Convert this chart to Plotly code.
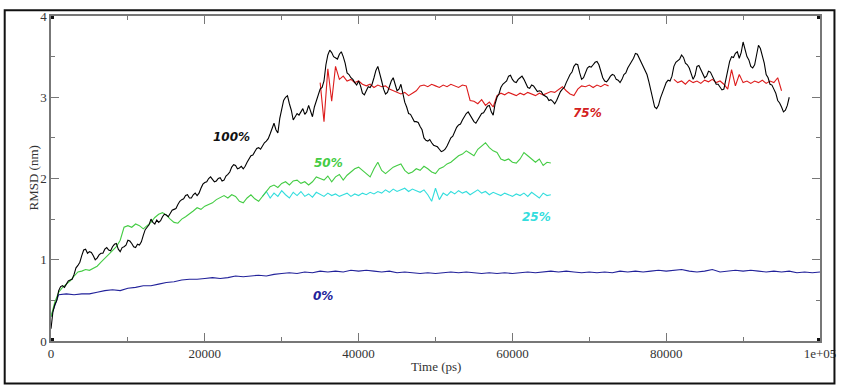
import numpy as np
import plotly.graph_objects as go

# RMSD (nm) of the 100% run at 0, 500, 1000 ... ps
rmsd_100 = [
    0.15, 0.45, 0.62, 0.68, 0.70, 0.75, 0.82, 0.93, 1.05, 1.13,
    1.10, 1.05, 1.02, 1.08, 1.13, 1.12, 1.16, 1.20, 1.10, 1.16,
    1.24, 1.20, 1.15, 1.18, 1.30, 1.40, 1.50, 1.44, 1.46, 1.53,
    1.55, 1.57, 1.62, 1.68, 1.74, 1.79, 1.76, 1.80, 1.79, 1.88,
    1.95, 2.00, 1.99, 1.97, 2.01, 1.98, 2.05, 2.14, 2.16, 2.13,
    2.12, 2.20, 2.28, 2.34, 2.38, 2.40, 2.46, 2.55, 2.68, 2.56,
    2.85, 3.00, 2.92, 2.72, 2.80, 2.83, 2.79, 2.90, 2.76, 2.96,
    3.10, 3.20, 3.52, 3.55, 3.48, 3.53, 3.50, 3.30, 3.24, 3.18,
    3.20, 3.05, 3.08, 3.12, 3.24, 3.38, 3.20, 3.04, 3.14, 3.24,
    3.08, 3.16, 2.94, 2.80, 2.74, 2.70, 2.64, 2.50, 2.46, 2.44,
    2.40, 2.36, 2.34, 2.40, 2.50, 2.58, 2.66, 2.72, 2.80, 2.78,
    2.70, 2.72, 2.80, 2.86, 2.90, 2.78, 3.00, 3.12, 3.18, 3.26,
    3.22, 3.18, 3.24, 3.22, 3.12, 3.15, 3.11, 3.08, 3.03, 3.00,
    2.97, 2.92, 3.02, 3.10, 3.18, 3.28, 3.38, 3.40, 3.22, 3.30,
    3.38, 3.40, 3.44, 3.32, 3.20, 3.22, 3.28, 3.22, 3.18, 3.28,
    3.36, 3.44, 3.54, 3.48, 3.38, 3.28, 3.08, 2.88, 2.90, 3.05,
    3.18, 3.20, 3.38, 3.45, 3.52, 3.42, 3.36, 3.22, 3.38, 3.34,
    3.24, 3.32, 3.26, 3.16, 3.12, 3.10, 3.36, 3.50, 3.54, 3.48,
    3.68, 3.50, 3.38, 3.40, 3.64, 3.52, 3.28, 3.16, 3.10, 2.96,
    2.88, 2.84, 3.00,
]
# same run at 250, 750, 1250 ... ps
rmsd_100_half = [
    0.36, 0.50, 0.67, 0.66, 0.74, 0.76, 0.90, 0.97, 1.12, 1.08,
    1.09, 1.00, 1.06, 1.08, 1.15, 1.11, 1.19, 1.13, 1.15, 1.18,
    1.23, 1.16, 1.19, 1.22, 1.37, 1.43, 1.46, 1.49, 1.48, 1.56,
    1.53, 1.61, 1.63, 1.72, 1.75, 1.80, 1.76, 1.82, 1.82, 1.93,
    1.96, 2.02, 1.96, 2.00, 1.97, 2.03, 2.08, 2.17, 2.12, 2.15,
    2.15, 2.25, 2.29, 2.37, 2.36, 2.44, 2.49, 2.63, 2.60, 2.74,
    2.96, 3.02, 2.84, 2.76, 2.78, 2.86, 2.82, 2.84, 2.88, 3.04,
    3.12, 3.40, 3.58, 3.50, 3.47, 3.56, 3.42, 3.28, 3.22, 3.15,
    3.14, 3.03, 3.13, 3.16, 3.33, 3.30, 3.10, 3.06, 3.20, 3.14,
    3.10, 3.05, 2.88, 2.79, 2.70, 2.69, 2.60, 2.47, 2.48, 2.41,
    2.39, 2.33, 2.36, 2.46, 2.52, 2.63, 2.67, 2.77, 2.82, 2.75,
    2.68, 2.77, 2.81, 2.89, 2.82, 2.92, 3.04, 3.16, 3.20, 3.27,
    3.19, 3.22, 3.26, 3.16, 3.11, 3.14, 3.07, 3.07, 3.02, 2.96,
    2.95, 2.96, 3.07, 3.12, 3.24, 3.31, 3.41, 3.30, 3.24, 3.36,
    3.37, 3.43, 3.40, 3.24, 3.19, 3.26, 3.27, 3.21, 3.22, 3.30,
    3.41, 3.48, 3.53, 3.45, 3.34, 3.19, 2.96, 2.86, 2.99, 3.10,
    3.21, 3.26, 3.43, 3.47, 3.49, 3.40, 3.30, 3.27, 3.39, 3.30,
    3.26, 3.31, 3.22, 3.16, 3.09, 3.22, 3.44, 3.49, 3.56, 3.55,
    3.60, 3.46, 3.36, 3.52, 3.60, 3.42, 3.24, 3.15, 3.05, 2.93,
    2.82, 2.90,
]
t0_100 = 0

rmsd_75 = [
    3.18, 2.70, 3.35, 2.95, 3.38, 3.22, 3.26, 3.20, 3.22, 3.18,
    3.20, 3.16, 3.14, 3.16, 3.12, 3.15, 3.13, 3.14, 3.10, 3.08,
    3.06, 3.04, 3.06, 3.02, 3.05, 3.08, 3.14, 3.15, 3.13, 3.16,
    3.14, 3.12, 3.15, 3.13, 3.16, 3.14, 3.12, 3.15, 3.14, 2.96,
    2.95, 2.92, 2.97, 2.90, 2.94, 2.88, 3.02, 3.05, 3.03, 3.06,
    3.04, 3.02, 3.05, 3.03, 3.06, 3.04, 3.02, 3.05, 3.03, 3.05,
    3.07, 3.06, 3.10, 3.13, 3.08, 3.04, 3.02, 3.10, 3.14, 3.13,
    3.15, 3.12, 3.15, 3.13, 3.16, 3.14,
    None, None, None, None, None, None, None, None, None, None,
    None, None, None, None, None, None,
    3.22, 3.18, 3.20, 3.16, 3.21, 3.18, 3.20, 3.17, 3.21, 3.19,
    3.22, 3.18, 3.20, 3.16, 3.10, 3.34, 3.14, 3.28, 3.18, 3.20,
    3.17, 3.20, 3.18, 3.21, 3.17, 3.20, 3.18, 3.24, 3.08,
]
t0_75 = 35000

rmsd_50 = [
    0.30, 0.48, 0.60, 0.66, 0.70, 0.74, 0.80, 0.85, 0.86, 0.88,
    0.87, 0.90, 0.92, 0.97, 1.02, 1.06, 1.12, 1.16, 1.24, 1.40,
    1.42, 1.40, 1.44, 1.42, 1.38, 1.42, 1.46, 1.52, 1.56, 1.58,
    1.55, 1.50, 1.46, 1.45, 1.50, 1.53, 1.56, 1.60, 1.64, 1.62,
    1.66, 1.68, 1.70, 1.74, 1.76, 1.79, 1.76, 1.80, 1.78, 1.72,
    1.70, 1.76, 1.80, 1.75, 1.72, 1.78, 1.84, 1.90, 1.92, 1.89,
    1.94, 1.96, 1.92, 1.97, 1.98, 1.94, 1.96, 1.92, 1.96, 2.02,
    2.00, 1.98, 2.03, 1.96, 2.02, 2.05, 1.98, 2.04, 2.08, 2.12,
    2.14, 2.10, 2.06, 2.02, 2.12, 2.20, 2.10, 2.06, 2.10, 2.14,
    2.16, 2.18, 2.10, 2.06, 2.08, 2.12, 2.10, 2.15, 2.12, 2.08,
    2.06, 2.12, 2.14, 2.18, 2.20, 2.24, 2.28, 2.30, 2.34, 2.31,
    2.28, 2.36, 2.40, 2.44, 2.38, 2.34, 2.32, 2.24, 2.22, 2.24,
    2.20, 2.19, 2.24, 2.32, 2.28, 2.24, 2.20, 2.24, 2.16, 2.20,
    2.19,
]
t0_50 = 0

rmsd_25 = [
    1.78, 1.84, 1.76, 1.82, 1.78, 1.85, 1.80, 1.76, 1.83, 1.79,
    1.84, 1.78, 1.81, 1.77, 1.83, 1.80, 1.78, 1.82, 1.79, 1.81,
    1.78, 1.80, 1.82, 1.78, 1.81, 1.79, 1.82, 1.80, 1.83, 1.81,
    1.84, 1.82, 1.86, 1.83, 1.87, 1.84, 1.86, 1.88, 1.84, 1.87,
    1.85, 1.83, 1.86, 1.80, 1.72, 1.88, 1.74, 1.82, 1.79, 1.84,
    1.81, 1.85, 1.82, 1.84, 1.80, 1.83, 1.86, 1.82, 1.84, 1.80,
    1.83, 1.81, 1.79, 1.82, 1.80, 1.78, 1.81, 1.79, 1.82, 1.78,
    1.83, 1.80, 1.76, 1.82, 1.79, 1.80,
]
t0_25 = 27500

rmsd_0 = [
    0.30, 0.57, 0.58, 0.57, 0.58, 0.58, 0.60, 0.62, 0.63, 0.62,
    0.65, 0.66, 0.68, 0.68, 0.70, 0.72, 0.73, 0.75, 0.76, 0.76,
    0.77, 0.78, 0.77, 0.78, 0.80, 0.79, 0.80, 0.81, 0.80, 0.82,
    0.83, 0.84, 0.83, 0.85, 0.84, 0.86, 0.85, 0.86, 0.85, 0.87,
    0.86, 0.87, 0.86, 0.85, 0.86, 0.84, 0.85, 0.84, 0.83, 0.84,
    0.83, 0.84, 0.85, 0.84, 0.85, 0.84, 0.83, 0.84, 0.83, 0.84,
    0.83, 0.84, 0.85, 0.84, 0.85, 0.86, 0.85, 0.86, 0.85, 0.84,
    0.85, 0.84, 0.85, 0.84, 0.86, 0.85, 0.86, 0.85, 0.86, 0.87,
    0.86, 0.87, 0.88, 0.86, 0.85, 0.86, 0.88, 0.85, 0.86, 0.87,
    0.86, 0.87, 0.86, 0.85, 0.86, 0.85, 0.86, 0.84, 0.85, 0.84,
    0.85,
]
t0_0 = 0

x_ticks = [0, 20000, 40000, 60000, 80000, 100000]
x_ticktext = ["0", "20000", "40000", "60000", "80000", "1e+05"]
y_ticks = [0, 1, 2, 3, 4]
y_ticktext = ["0", "1", "2", "3", "4"]

# label text, colour and (time, rmsd) position
series_labels = [
    ("100%", "#111111", 23500, 2.51),
    ("75%", "#d42020", 69800, 2.81),
    ("50%", "#44cc44", 36100, 2.19),
    ("25%", "#33dddd", 63100, 1.53),
    ("0%", "#22229a", 35400, 0.55),
]


def times(values, start, step):
    return start + step * np.arange(len(values))


# merge the whole- and half-step samples of the 100% run
full_100 = np.empty(len(rmsd_100) + len(rmsd_100_half))
full_100[0::2] = rmsd_100
full_100[1::2] = rmsd_100_half

fig = go.Figure()
series = [
    (rmsd_0, t0_0, 1000, "#22229a"),
    (rmsd_25, t0_25, 500, "#33dddd"),
    (rmsd_50, t0_50, 500, "#44cc44"),
    (rmsd_75, t0_75, 500, "#dd1c1c"),
    (full_100, t0_100, 250, "#000000"),
]
for vals, start, step, color in series:
    fig.add_trace(go.Scatter(
        x=times(vals, start, step), y=vals, mode="lines",
        line=dict(color=color, width=1.1), connectgaps=False,
        showlegend=False, hoverinfo="skip",
    ))

for text, color, tx, ty in series_labels:
    fig.add_annotation(
        x=tx, y=ty, text=text, showarrow=False, xref="x", yref="y",
        font=dict(family="DejaVu Sans", size=12, color=color,
                  weight="bold", style="italic"),
    )

axis_font = dict(family="Liberation Serif", size=13, color="#333333")
fig.update_xaxes(
    range=[0, 100000], tickvals=x_ticks, ticktext=x_ticktext,
    showline=True, linecolor="#777777", linewidth=1.5, mirror="ticks",
    ticks="inside", ticklen=8, tickwidth=1, tickcolor="#777777",
    minor=dict(ticks="inside", ticklen=4, dtick=10000, tick0=0,
               tickcolor="#777777", showgrid=False),
    showgrid=False, zeroline=False, tickfont=axis_font,
)
fig.update_yaxes(
    range=[0, 4], tickvals=y_ticks, ticktext=y_ticktext,
    showline=True, linecolor="#777777", linewidth=1.5, mirror="ticks",
    ticks="inside", ticklen=8, tickwidth=1, tickcolor="#777777",
    minor=dict(ticks="inside", ticklen=4, dtick=0.5, tick0=0,
               tickcolor="#777777", showgrid=False),
    showgrid=False, zeroline=False, tickfont=axis_font,
)

# axis titles
title_font = dict(family="Liberation Serif", size=13, color="#333333")
fig.add_annotation(x=0.5, y=0, xref="paper", yref="paper", yshift=-25,
                   xanchor="center", yanchor="middle",
                   text="Time (ps)", showarrow=False, font=title_font)
fig.add_annotation(x=0, y=0.5, xref="paper", yref="paper", xshift=-18,
                   xanchor="center", yanchor="middle",
                   text="RMSD (nm)", showarrow=False, textangle=-90,
                   font=title_font)

# small corner squares on the frame
for cx, cy in [(0, 0), (0, 4), (100000, 0), (100000, 4)]:
    fig.add_shape(type="rect", xref="x", yref="y", xsizemode="pixel",
                  ysizemode="pixel", xanchor=cx, yanchor=cy,
                  x0=-3, x1=3, y0=-3, y1=3,
                  fillcolor="#111111", line=dict(width=0))

# outer border around the figure
fig.add_shape(type="rect", xref="paper", yref="paper",
              x0=-0.0602, x1=1.0188, y0=-0.131, y1=1.018,
              line=dict(color="#111111", width=2), fillcolor="rgba(0,0,0,0)")

fig.update_layout(
    width=845, height=389,
    margin=dict(l=51, r=21, t=9, b=48),
    paper_bgcolor="white", plot_bgcolor="white",
)

fig.write_html("out.html")
